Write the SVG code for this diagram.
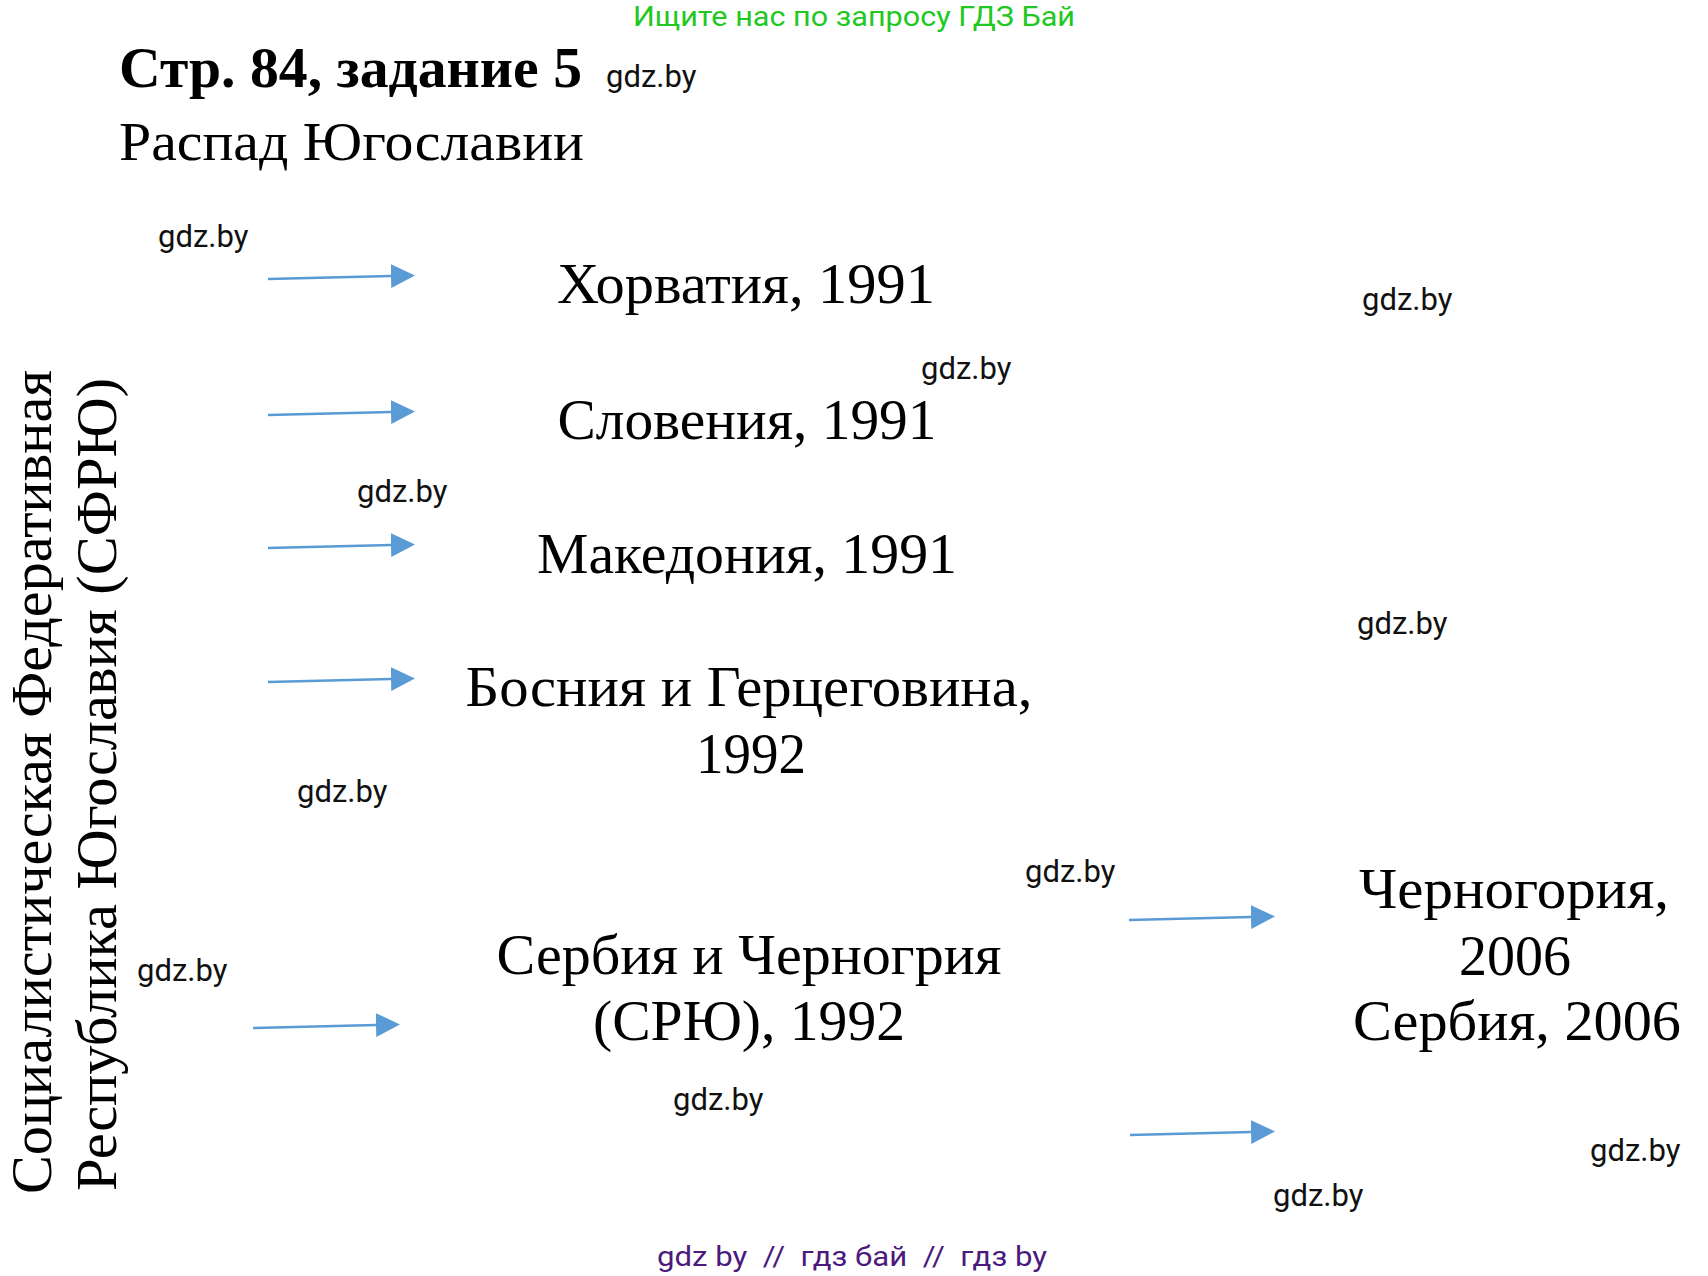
<svg xmlns="http://www.w3.org/2000/svg" width="1708" height="1276" viewBox="0 0 1708 1276">
  <style>
    .serif { font-family: "Liberation Serif", "Times New Roman", serif; fill: #000; }
    .lbl { font-size: 57px; text-anchor: middle; }
    .vert { font-size: 57px; }
    .wm { font-family: Roboto, "Liberation Sans", sans-serif; font-size: 31px; fill: #111; }
    .green { font-family: Roboto, "Liberation Sans", sans-serif; font-size: 28px; fill: #22c822; }
    .purple { font-family: Roboto, "Liberation Sans", sans-serif; font-size: 28px; fill: #4b1a7c; }
    .arrow { stroke: #5b9bd5; stroke-width: 2.5; fill: none; marker-end: url(#head); }
  </style>
  <defs>
    <marker id="head" viewBox="0 0 24 24" refX="0" refY="12" markerWidth="24" markerHeight="24" markerUnits="userSpaceOnUse" orient="auto">
      <path d="M0,0 L24,12 L0,24 Z" fill="#5b9bd5"/>
    </marker>
  </defs>
  <rect x="0" y="0" width="1708" height="1276" fill="#fff"/>

  <g id="header">
    <text class="green" x="854" y="26" text-anchor="middle" textLength="442" lengthAdjust="spacingAndGlyphs">Ищите нас по запросу ГДЗ Бай</text>
    <text class="serif" x="119" y="87" font-size="58" font-weight="bold" textLength="463" lengthAdjust="spacingAndGlyphs">Стр. 84, задание 5</text>
    <text class="serif" x="119" y="160" font-size="55" textLength="465" lengthAdjust="spacingAndGlyphs">Распад Югославии</text>
  </g>

  <g id="node-sfry">
    <text class="serif vert" transform="translate(51,1194) rotate(-90)" textLength="824" lengthAdjust="spacingAndGlyphs">Социалистическая Федеративная</text>
    <text class="serif vert" transform="translate(116,1191) rotate(-90)" textLength="813" lengthAdjust="spacingAndGlyphs">Республика Югославия (СФРЮ)</text>
  </g>

  <g id="node-croatia">
    <text class="serif lbl" x="746" y="303" textLength="378" lengthAdjust="spacingAndGlyphs">Хорватия, 1991</text>
  </g>
  <g id="node-slovenia">
    <text class="serif lbl" x="747" y="439" textLength="379" lengthAdjust="spacingAndGlyphs">Словения, 1991</text>
  </g>
  <g id="node-macedonia">
    <text class="serif lbl" x="747" y="573" textLength="420" lengthAdjust="spacingAndGlyphs">Македония, 1991</text>
  </g>
  <g id="node-bosnia">
    <text class="serif lbl" x="749" y="706" textLength="567" lengthAdjust="spacingAndGlyphs">Босния и Герцеговина,</text>
    <text class="serif lbl" x="751" y="773" textLength="110" lengthAdjust="spacingAndGlyphs">1992</text>
  </g>
  <g id="node-fry">
    <text class="serif lbl" x="749" y="974" textLength="505" lengthAdjust="spacingAndGlyphs">Сербия и Черногрия</text>
    <text class="serif lbl" x="749" y="1040" textLength="312" lengthAdjust="spacingAndGlyphs">(СРЮ), 1992</text>
  </g>
  <g id="node-montenegro-serbia">
    <text class="serif lbl" x="1514" y="908" textLength="310" lengthAdjust="spacingAndGlyphs">Черногория,</text>
    <text class="serif lbl" x="1515" y="975" textLength="112" lengthAdjust="spacingAndGlyphs">2006</text>
    <text class="serif lbl" x="1517" y="1040" textLength="328" lengthAdjust="spacingAndGlyphs">Сербия, 2006</text>
  </g>

  <g id="connectors">
    <path class="arrow" d="M268,279 L391,276"/>
    <path class="arrow" d="M268,415 L391,412"/>
    <path class="arrow" d="M268,548 L391,545"/>
    <path class="arrow" d="M268,682 L391,679"/>
    <path class="arrow" d="M253,1028 L376,1025"/>
    <path class="arrow" d="M1129,920 L1251,917"/>
    <path class="arrow" d="M1130,1135 L1251,1132"/>
  </g>

  <g id="watermarks">
    <text class="wm" x="606" y="87">gdz.by</text>
    <text class="wm" x="158" y="247">gdz.by</text>
    <text class="wm" x="1362" y="310">gdz.by</text>
    <text class="wm" x="921" y="379">gdz.by</text>
    <text class="wm" x="357" y="502">gdz.by</text>
    <text class="wm" x="1357" y="634">gdz.by</text>
    <text class="wm" x="297" y="802">gdz.by</text>
    <text class="wm" x="1025" y="882">gdz.by</text>
    <text class="wm" x="137" y="981">gdz.by</text>
    <text class="wm" x="673" y="1110">gdz.by</text>
    <text class="wm" x="1590" y="1161">gdz.by</text>
    <text class="wm" x="1273" y="1206">gdz.by</text>
  </g>

  <g id="footer">
    <text class="purple" x="852" y="1266" text-anchor="middle" xml:space="preserve" textLength="390" lengthAdjust="spacingAndGlyphs">gdz by  //  гдз бай  //  гдз by</text>
  </g>
</svg>
